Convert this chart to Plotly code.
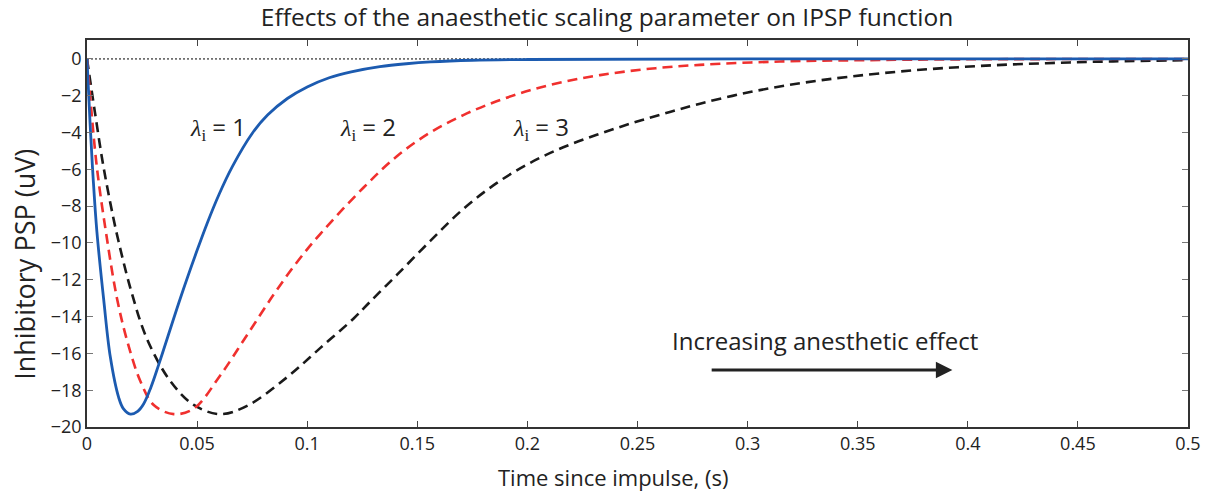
import plotly.graph_objects as go

# Time (s) and inhibitory PSP (uV)
t_l1 = [0, 0.0014, 0.0028, 0.0045, 0.0076, 0.0106, 0.0144, 0.0165, 0.0197, 0.023, 0.0257, 0.029,
        0.0326, 0.0424, 0.05, 0.0545, 0.06, 0.066, 0.075, 0.082, 0.091, 0.1, 0.11, 0.12, 0.133,
        0.145, 0.156, 0.175, 0.2, 0.3, 0.5]
v_l1 = [0, -3.5, -6.5, -9.4, -13.1, -16.2, -18.4, -19.0, -19.3, -19.15, -18.75, -17.85,
        -16.6, -13.0, -10.4, -8.95, -7.35, -5.85, -4.05, -3.05, -2.15, -1.52, -1.02, -0.7, -0.42,
        -0.26, -0.16, -0.07, -0.03, 0, 0]

t_l2 = [0, 0.001, 0.0044, 0.0091, 0.0136, 0.0182, 0.0242, 0.0303, 0.0394, 0.0485, 0.0605, 0.0727,
        0.0848, 0.095, 0.106, 0.1255, 0.1406, 0.1558, 0.1709, 0.186, 0.2012, 0.2163, 0.233,
        0.2542, 0.2784, 0.3147, 0.35, 0.4, 0.5]
v_l2 = [0, -1.4, -5.8, -9.8, -13.0, -15.3, -17.5, -18.8, -19.3, -19.0, -17.2, -15.0,
        -12.8, -11.1, -9.5, -7.0, -5.3, -4.0, -3.05, -2.3, -1.7, -1.25, -0.88,
        -0.55, -0.32, -0.14, -0.07, -0.02, 0]

t_l3 = [0, 0.0036, 0.0074, 0.0119, 0.0144, 0.0197, 0.0272, 0.0378, 0.0485, 0.0605, 0.0727,
        0.0908, 0.106, 0.1211, 0.1285, 0.1406, 0.1558, 0.1709, 0.186, 0.2012, 0.2163, 0.2315,
        0.2466, 0.2618, 0.2784, 0.3011, 0.3238, 0.3465, 0.3753, 0.4055, 0.4358, 0.466, 0.5]
v_l3 = [0, -2.9, -5.8, -8.6, -9.95, -12.45, -15.2, -17.5, -18.8, -19.3, -18.85,
        -17.3, -15.7, -14.1, -13.2, -11.75, -9.9, -8.15, -6.75, -5.65, -4.8, -4.12,
        -3.52, -2.98, -2.43, -1.8, -1.32, -0.96, -0.62, -0.38, -0.23, -0.13, -0.07]

x_ticks = [0, 0.05, 0.1, 0.15, 0.2, 0.25, 0.3, 0.35, 0.4, 0.45, 0.5]
y_ticks = [0, -2, -4, -6, -8, -10, -12, -14, -16, -18, -20]

SANS = "Open Sans, Noto Sans, sans-serif"

fig = go.Figure()
fig.add_trace(go.Scatter(x=t_l3, y=v_l3, mode="lines", line=dict(color="#1a1a1a", width=2.6, dash="10px,6px", shape="spline", smoothing=1)))
fig.add_trace(go.Scatter(x=t_l2, y=v_l2, mode="lines", line=dict(color="#f0302e", width=2.6, dash="10px,6px", shape="spline", smoothing=1)))
fig.add_trace(go.Scatter(x=t_l1, y=v_l1, mode="lines", line=dict(color="#1c5bb0", width=2.8, shape="spline", smoothing=1)))

fig.add_shape(type="line", xref="x", yref="y", x0=0, x1=0.5, y0=0, y1=0,
              line=dict(color="black", width=1, dash="2px,2px"), layer="below")

def lam(n):
    return ("<span style='font-family:Liberation Serif, serif'><i>λ</i><sub>i</sub></span> = %d" % n)

for n, tx in [(1, 0.0595), (2, 0.1276), (3, 0.2062)]:
    fig.add_annotation(x=tx, y=-3.7, xref="x", yref="y", text=lam(n), showarrow=False,
                       font=dict(family=SANS, size=24, color="#222"))

fig.add_annotation(x=0.335, y=-15.3, xref="x", yref="y", text="Increasing anesthetic effect",
                   showarrow=False, font=dict(family=SANS, size=24, color="#222"))
fig.add_annotation(x=0.393, y=-16.9, ax=0.283, ay=-16.9, xref="x", yref="y", axref="x", ayref="y",
                   text="", showarrow=True, arrowhead=2, arrowsize=1.1, arrowwidth=3, arrowcolor="#222")

# axis titles (placed as in the reference, slightly off-centre)
fig.add_annotation(x=0.4777, y=-0.129, xref="paper", yref="paper", text="Time since impulse, (s)",
                   showarrow=False, xanchor="center", yanchor="middle",
                   font=dict(family=SANS, size=22, color="#222"))
fig.add_annotation(x=-0.0563, y=0.419, xref="paper", yref="paper", text="Inhibitory PSP (uV)",
                   showarrow=False, textangle=-90, xanchor="center", yanchor="middle",
                   font=dict(family=SANS, size=27, color="#222"))

fig.update_layout(
    width=1214, height=492,
    margin=dict(l=87, r=26, t=40, b=65),
    paper_bgcolor="white", plot_bgcolor="white",
    showlegend=False,
    title=dict(text="Effects of the anaesthetic scaling parameter on IPSP function",
               x=0.5, xanchor="center", y=0.965, yanchor="middle",
               font=dict(family=SANS, size=24.5, color="#222")),
    font=dict(family=SANS, color="#222"),
)
fig.update_xaxes(range=[0, 0.5], tickvals=x_ticks, ticktext=[("%g" % v) for v in x_ticks],
                 ticks="inside", ticklen=6, tickcolor="#444", tickwidth=1,
                 showline=True, linecolor="#333", linewidth=1.5, mirror="ticks",
                 showgrid=False, zeroline=False, tickfont=dict(size=18))
fig.update_yaxes(range=[-20, 1.03], tickvals=y_ticks,
                 ticktext=[("−%d" % -v) if v < 0 else "0" for v in y_ticks],
                 ticks="inside", ticklen=6, tickcolor="#777", tickwidth=1,
                 showline=True, linecolor="#333", linewidth=1.5, mirror="ticks",
                 showgrid=False, zeroline=False, tickfont=dict(size=18))

fig.write_html("out.html")
